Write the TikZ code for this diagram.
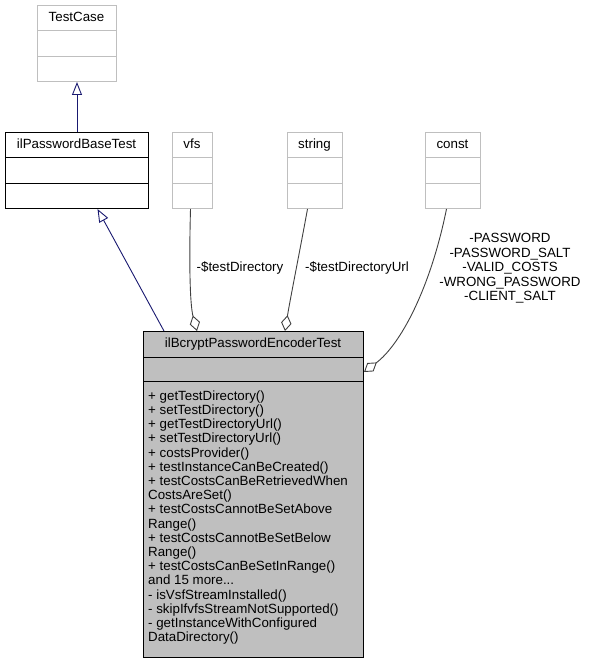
\documentclass[tikz,border=0pt]{standalone}
\usepackage{fontspec}
\setmainfont{Liberation Sans}
\usetikzlibrary{arrows.meta}

\definecolor{edgegrey}{HTML}{404040}
\definecolor{boxgrey}{HTML}{BFBFBF}
\definecolor{inhblue}{HTML}{191970}

\tikzset{
  classfont/.style={font=\fontsize{13.33}{14.2}\selectfont},
  lightbox/.style={draw=boxgrey, fill=white, line width=1pt, anchor=north west, inner sep=0, minimum height=75.5pt},
  darkbox/.style={draw=black, fill=white, line width=1pt, anchor=north west, inner sep=0, minimum height=75.5pt},
  mainbox/.style={draw=black, fill=boxgrey, line width=1pt, anchor=north west, inner sep=0},
  title/.style={inner sep=0, text height=9.6pt, text depth=2.8pt},
  inherit/.style={draw=inhblue, line width=0.9pt, -{Triangle[open, length=13pt, width=10pt]}},
  aggr/.style={draw=edgegrey, line width=0.9pt, -{Diamond[open, length=16pt, width=10.5pt]}}
}

\begin{document}
\begin{tikzpicture}[x=1pt, y=-1pt, classfont]
\useasboundingbox (0,0) rectangle (589,663);

%% TestCase
\node[lightbox, minimum width=79pt, minimum height=76pt] (testcase) at (37,5) {};
\draw[boxgrey, line width=1pt] (37,31) -- (116,31);
\draw[boxgrey, line width=1pt] (37,57) -- (116,57);
\node[title] (testcase_t) at (76.5,18) {TestCase};

%% ilPasswordBaseTest
\node[darkbox, minimum width=143pt] (pwbase) at (5,132.5) {};
\draw[line width=1pt] (5,157.5) -- (148,157.5);
\draw[line width=1pt] (5,183) -- (148,183);
\node[title] (pwbase_t) at (76.5,145) {ilPasswordBaseTest};

%% vfs
\node[lightbox, minimum width=40pt] (vfs) at (172,132.5) {};
\draw[boxgrey, line width=1pt] (172,157.5) -- (212,157.5);
\draw[boxgrey, line width=1pt] (172,183) -- (212,183);
\node[title] (vfs_t) at (192,145) {vfs};

%% string
\node[lightbox, minimum width=55pt] (string) at (287,132.5) {};
\draw[boxgrey, line width=1pt] (287,157.5) -- (342,157.5);
\draw[boxgrey, line width=1pt] (287,183) -- (342,183);
\node[title] (string_t) at (314.5,145) {string};

%% const
\node[lightbox, minimum width=55pt] (const) at (425,132.5) {};
\draw[boxgrey, line width=1pt] (425,157.5) -- (480,157.5);
\draw[boxgrey, line width=1pt] (425,183) -- (480,183);
\node[title] (const_t) at (452.5,145) {const};

%% ilBcryptPasswordEncoderTest
\node[mainbox, minimum width=220pt, minimum height=326pt] (encoder) at (143,331) {};
\draw[line width=1pt] (143,357) -- (363,357);
\draw[line width=1pt] (143,381) -- (363,381);
\node[title] (encoder_t) at (253,344) {ilBcryptPasswordEncoderTest};
\node[anchor=north west, inner sep=0, align=left, font=\fontsize{13.33}{14.2}\selectfont] (encoder_ops) at (148,390.5) {%
+ getTestDirectory()\\
+ setTestDirectory()\\
+ getTestDirectoryUrl()\\
+ setTestDirectoryUrl()\\
+ costsProvider()\\
+ testInstanceCanBeCreated()\\
+ testCostsCanBeRetrievedWhen\\
CostsAreSet()\\
+ testCostsCannotBeSetAbove\\
Range()\\
+ testCostsCannotBeSetBelow\\
Range()\\
+ testCostsCanBeSetInRange()\\
and 15 more...\\
- isVsfStreamInstalled()\\
- skipIfvfsStreamNotSupported()\\
- getInstanceWithConfigured\\
DataDirectory()};

%% inheritance
\draw[inherit] (pwbase.north) -- (testcase.south);
\draw[inherit] ([xshift=21pt]encoder.north west) -- ([xshift=20.5pt]pwbase.south);

%% aggregation
\draw[aggr] ([xshift=-2pt]vfs.south) .. controls (189,265) and (190,305) .. ([xshift=54pt]encoder.north west);
\draw[aggr] ([xshift=-7.5pt]string.south) .. controls (300,250) and (290,300) .. ([xshift=142pt]encoder.north west);
\draw[aggr] ([xshift=-6.5pt]const.south) .. controls (430,290) and (400,345) .. ([yshift=-41pt]encoder.north east);

%% edge labels
\node[title] (vfs_l) at (240,268) {-\$testDirectory};
\node[title] (string_l) at (357,268) {-\$testDirectoryUrl};
\node[inner sep=0, align=center, font=\fontsize{13.33}{14.5}\selectfont] (const_l) at (510,268.5) {-PASSWORD\\
-PASSWORD\_SALT\\
-VALID\_COSTS\\
-WRONG\_PASSWORD\\
-CLIENT\_SALT};

\end{tikzpicture}
\end{document}
